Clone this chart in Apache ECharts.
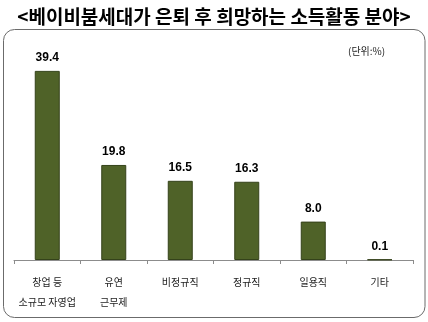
<!DOCTYPE html>
<html>
<head>
<meta charset="utf-8">
<script src="https://cdn.jsdelivr.net/npm/echarts@6/dist/echarts.min.js"></script>
<style>html,body{margin:0;padding:0;background:#fff;}#c{width:428px;height:322px;}</style>
</head>
<body>
<div id="c"></div>
<script>
const titleText = '<베이비붐세대가 은퇴 후 희망하는 소득활동 분야>';
const unitText = '(단위:%)';
const categories = ['창업 등\n소규모 자영업', '유연\n근무제', '비정규직', '정규직', '일용직', '기타'];
const values = [39.4, 19.8, 16.5, 16.3, 8.0, 0.1];

const chart = echarts.init(document.getElementById('c'), null, {renderer: 'canvas'});
chart.setOption({
  animation: false,
  backgroundColor: '#fff',
  title: {
    text: titleText,
    left: 'center',
    top: 2,
    textStyle: {fontFamily: 'Noto Sans CJK KR', fontWeight: 'bold', fontSize: 19, color: '#000'}
  },
  graphic: [
    {type: 'rect', shape: {x: 3.5, y: 29.5, width: 421.5, height: 288, r: 11},
     style: {fill: 'none', stroke: '#6b6b6b', lineWidth: 1}, z: -1},
    {type: 'text', left: 348, top: 46,
     style: {text: unitText, font: '10px "Noto Sans CJK KR"', fill: '#222'}}
  ],
  grid: {left: 14, right: 15, top: 44, bottom: 62, containLabel: false},
  xAxis: {
    type: 'category',
    data: categories,
    axisLine: {show: true, lineStyle: {color: '#8c8c8c', width: 1}},
    axisTick: {show: true, length: 4, lineStyle: {color: '#8c8c8c'}, alignWithLabel: false},
    axisLabel: {
      interval: 0, margin: 12, color: '#222',
      fontFamily: 'Noto Sans CJK KR', fontSize: 10, lineHeight: 20
    }
  },
  yAxis: {
    type: 'value', min: 0, max: 45, show: false,
    splitLine: {show: false}
  },
  series: [{
    type: 'bar',
    data: values,
    barWidth: 25,
    itemStyle: {color: '#4F6228', borderColor: '#34421a', borderWidth: 1},
    label: {
      show: true, position: 'top', distance: 7,
      formatter: p => p.value.toFixed(1),
      fontFamily: 'Liberation Sans', fontWeight: 'bold', fontSize: 12, color: '#000'
    }
  }]
});
</script>
</body>
</html>
